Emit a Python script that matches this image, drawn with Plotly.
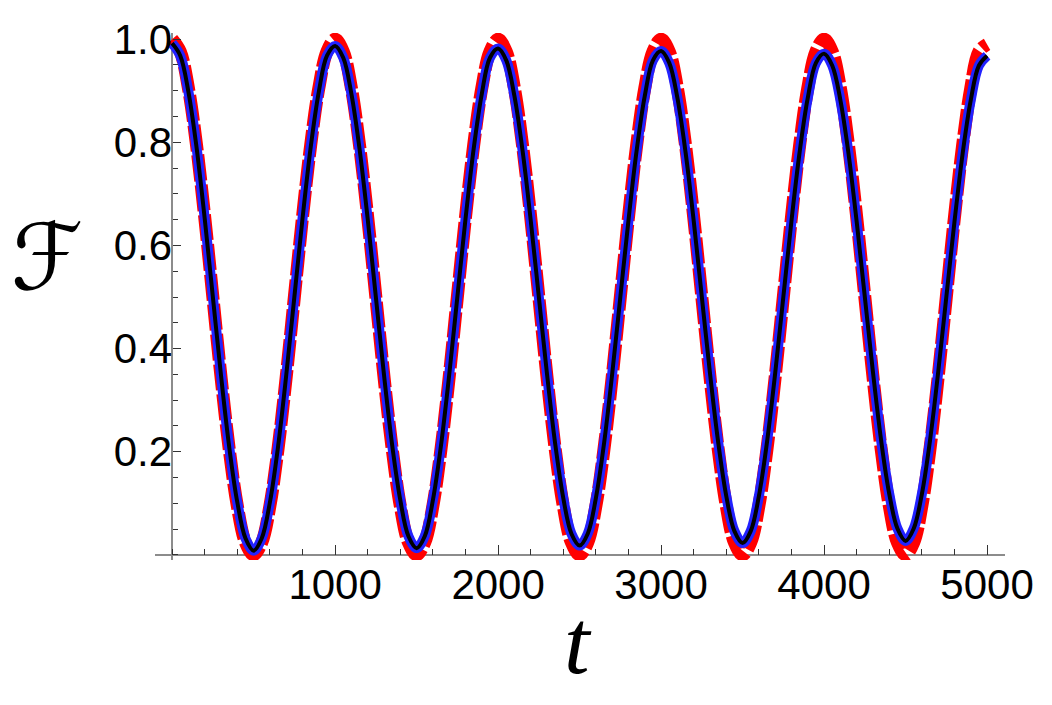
import plotly.graph_objects as go

# time samples (every 50 units)
t = [i * 50 for i in range(101)]

# red dashed reference curve
red_period = [1.0, 0.976, 0.905, 0.794, 0.655, 0.5, 0.345, 0.206, 0.095, 0.024,
              0.0, 0.024, 0.095, 0.206, 0.345, 0.5, 0.655, 0.794, 0.905, 0.976]
F_red = red_period * 5 + [0.99]

# blue / black curves: slowly damped oscillation
F_blue = (
    [0.992, 0.968, 0.898, 0.790, 0.652, 0.5, 0.348, 0.210, 0.102, 0.032,
     0.008, 0.032, 0.102, 0.210, 0.348, 0.5, 0.652, 0.790, 0.898, 0.968]
    + [0.987, 0.964, 0.894, 0.787, 0.651, 0.5, 0.349, 0.213, 0.106, 0.036,
       0.013, 0.036, 0.106, 0.213, 0.349, 0.5, 0.651, 0.787, 0.894, 0.964]
    + [0.982, 0.959, 0.890, 0.784, 0.649, 0.5, 0.351, 0.216, 0.110, 0.041,
       0.018, 0.041, 0.110, 0.216, 0.351, 0.5, 0.649, 0.784, 0.890, 0.959]
    + [0.977, 0.954, 0.886, 0.781, 0.648, 0.5, 0.352, 0.219, 0.114, 0.046,
       0.023, 0.046, 0.114, 0.219, 0.352, 0.5, 0.648, 0.781, 0.886, 0.954]
    + [0.972, 0.949, 0.882, 0.778, 0.646, 0.5, 0.354, 0.222, 0.118, 0.051,
       0.027, 0.051, 0.118, 0.222, 0.354, 0.5, 0.646, 0.778, 0.882, 0.949]
    + [0.968]
)
F_black = list(F_blue)

x_ticks = [1000, 2000, 3000, 4000, 5000]
x_labels = ["1000", "2000", "3000", "4000", "5000"]
y_ticks = [0.2, 0.4, 0.6, 0.8, 1.0]
y_labels = ["0.2", "0.4", "0.6", "0.8", "1.0"]

x_min, x_max = -105, 5110
y_min, y_max = -0.010, 1.012

# page body adds an 8px offset, compensate
OFF = 8
W, H = 1052, 705
ML, MT = 155 - OFF, 33 - OFF
PW, PH = 850, 527
MR = W - ML - PW
MB = H - MT - PH

fig = go.Figure()
fig.add_trace(go.Scatter(x=t, y=F_red, mode="lines", line=dict(color="#ff0000", width=13, dash="26px,4px", shape="spline"), showlegend=False))
fig.add_trace(go.Scatter(x=t, y=F_blue, mode="lines", line=dict(color="#2222ff", width=10, shape="spline"), showlegend=False))
fig.add_trace(go.Scatter(x=t, y=F_black, mode="lines", line=dict(color="#000000", width=4, shape="spline"), showlegend=False))

tickfont = dict(family="Liberation Sans, Arial, sans-serif", size=42, color="black")

fig.update_layout(
    width=W, height=H,
    margin=dict(l=ML, r=MR, t=MT, b=MB, autoexpand=False),
    plot_bgcolor="white", paper_bgcolor="white",
    xaxis=dict(
        range=[x_min, x_max], showgrid=False, showline=False, automargin=False,
        zeroline=True, zerolinecolor="#8c8c8c", zerolinewidth=1.5,
        anchor="free", position=(0 - y_min) / (y_max - y_min),
        tickmode="array", tickvals=x_ticks, ticktext=x_labels,
        ticks="inside", ticklen=10, tickwidth=1.3, tickcolor="#333",
        tickfont=tickfont, ticklabelstandoff=1,
        minor=dict(dtick=200, tick0=0, ticks="inside", ticklen=6, tickwidth=1.2, tickcolor="#333", showgrid=False),
    ),
    yaxis=dict(
        range=[y_min, y_max], showgrid=False, showline=False, automargin=False,
        zeroline=True, zerolinecolor="#8c8c8c", zerolinewidth=1.5,
        anchor="free", position=(0 - x_min) / (x_max - x_min),
        tickmode="array", tickvals=y_ticks, ticktext=y_labels,
        ticks="inside", ticklen=8, tickwidth=1.3, tickcolor="#333",
        tickfont=tickfont, ticklabelstandoff=0,
        minor=dict(dtick=0.05, tick0=0, ticks="inside", ticklen=5, tickwidth=1.2, tickcolor="#333", showgrid=False),
    ),
)


def px2paper(px, py):
    # px, py are target screenshot pixels
    return (px - OFF - ML) / PW, 1 - (py - OFF - MT) / PH


fx, fy = px2paper(9, 257)
tx, ty = px2paper(578, 642)
fig.add_annotation(text="ℱ", x=fx, y=fy, xref="paper", yref="paper", showarrow=False,
                   font=dict(family="DejaVu Sans, sans-serif", size=92, color="black"),
                   xanchor="left", yanchor="middle")
fig.add_annotation(text="<i>t</i>", x=tx, y=ty, xref="paper", yref="paper", showarrow=False,
                   font=dict(family="Liberation Serif, Times New Roman, serif", size=92, color="black"),
                   xanchor="center", yanchor="middle")

fig.write_html("out.html")
